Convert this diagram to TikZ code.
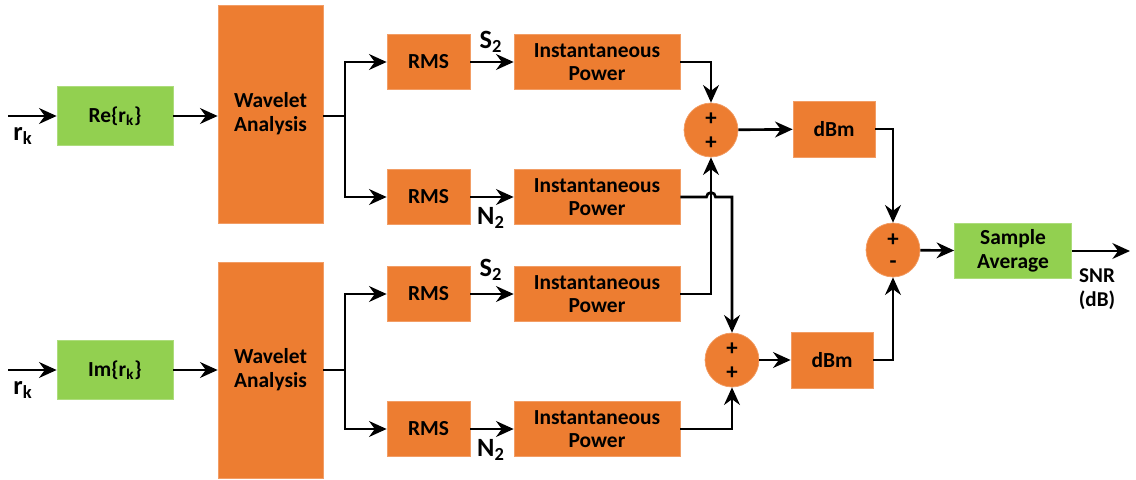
\documentclass[tikz,border=0pt]{standalone}
\usepackage{fontspec}
\setmainfont{Carlito}
\usetikzlibrary{arrows.meta,calc}
\definecolor{blockorange}{HTML}{ED7D31}
\definecolor{blockgreen}{HTML}{92D050}
\begin{document}
\begin{tikzpicture}[x=0.02cm,y=-0.02cm,
  font=\fontsize{12.2}{13.5}\selectfont\bfseries,
  block/.style={fill=blockorange,draw=blockorange!75!white,line width=0.4pt,align=center,inner sep=1pt},
  gblock/.style={fill=blockgreen,draw=blockgreen!75!white,line width=0.4pt,align=center,inner sep=1pt},
  rmsbox/.style={block,minimum width=1.66cm,minimum height=1.1cm},
  powbox/.style={block,minimum width=3.32cm,minimum height=1.1cm},
  wavebox/.style={block,minimum width=2.1cm,minimum height=4.36cm},
  dbmbox/.style={block,minimum width=1.64cm,minimum height=1.12cm},
  summer/.style={circle,fill=blockorange,draw=blockorange!75!white,line width=0.4pt,minimum size=1.08cm,inner sep=0pt},
  sign/.style={font=\fontsize{13}{13}\selectfont\bfseries,inner sep=0pt},
  sig/.style={font=\fontsize{15}{16}\selectfont\bfseries,inner sep=1pt},
  wire/.style={line width=1.5pt,black},
  flow/.style={wire,-{Stealth[length=10pt,width=9pt]}}]
\useasboundingbox (0,0) rectangle (1136,480);

% input stages
\node[gblock,minimum width=2.32cm,minimum height=1.18cm] (re) at (115,116) {Re\{r\textsubscript{k}\}};
\node[gblock,minimum width=2.32cm,minimum height=1.18cm] (im) at (115,370) {Im\{r\textsubscript{k}\}};
\coordinate (in1) at (8,116);
\coordinate (in2) at (8,370);
\node[sig] (rk1) at (23,136) {r\textsubscript{k}};
\node[sig] (rk2) at (23,390) {r\textsubscript{k}};

% wavelet analysis
\node[wavebox] (wa1) at (270.5,114) {Wavelet\\Analysis};
\node[wavebox,minimum height=4.32cm] (wa2) at (270.5,370) {Wavelet\\Analysis};
\coordinate (sp1) at (345,116);
\coordinate (sp2) at (345,370);

% RMS and power branches
\node[rmsbox] (rms1) at (428.5,62) {RMS};
\node[rmsbox] (rms2) at (428.5,197) {RMS};
\node[rmsbox] (rms3) at (428.5,294) {RMS};
\node[rmsbox] (rms4) at (428.5,429) {RMS};
\node[powbox] (ip1) at (597,62) {Instantaneous\\Power};
\node[powbox] (ip2) at (597,197) {Instantaneous\\Power};
\node[powbox] (ip3) at (597,294) {Instantaneous\\Power};
\node[powbox] (ip4) at (597,429) {Instantaneous\\Power};
\node[sig] (s2a) at (491,42) {S\textsubscript{2}};
\node[sig] (n2a) at (491,218) {N\textsubscript{2}};
\node[sig] (s2b) at (491,270) {S\textsubscript{2}};
\node[sig] (n2b) at (491,450) {N\textsubscript{2}};

% summing junctions
\node[summer] (sum1) at (711,130) {};
\node[summer] (sum2) at (732,360) {};
\node[summer] (sum3) at (893,250) {};
\node[sign] (p1a) at (711,119) {+};
\node[sign] (p1b) at (711,143) {+};
\node[sign] (p2a) at (732,349) {+};
\node[sign] (p2b) at (732,373) {+};
\node[sign] (p3a) at (893,240) {+};
\node[sign] (p3b) at (893,265) {-};

% output stages
\node[dbmbox] (dbm1) at (834,129) {dBm};
\node[dbmbox] (dbm2) at (832,360) {dBm};
\node[gblock,minimum width=2.34cm,minimum height=1.1cm] (avg) at (1013,251) {Sample\\Average};
\coordinate (out) at (1130,251);
\node[font=\fontsize{12}{14}\selectfont\bfseries,align=center,inner sep=0pt] (snr) at (1097,289) {SNR\\(dB)};

% connections
\draw[flow] (in1) -- (re);
\draw[flow] (in2) -- (im);
\draw[flow] (re.east) -- (re.east -| wa1.west);
\draw[flow] (im.east) -- (im.east -| wa2.west);
\draw[wire] (wa1.east |- sp1) -- (sp1);
\draw[wire] (wa2.east |- sp2) -- (sp2);
\draw[flow] (sp1) |- (rms1.west);
\draw[flow] (sp1) |- (rms2.west);
\draw[flow] (sp2) |- (rms3.west);
\draw[flow] (sp2) |- (rms4.west);
\draw[flow] (rms1) -- (ip1);
\draw[flow] (rms2) -- (ip2);
\draw[flow] (rms3) -- (ip3);
\draw[flow] (rms4) -- (ip4);

\draw[flow] (ip1.east) -| (sum1.north);
\draw[flow] (ip3.east) -| (sum1.south);
\coordinate (hop) at (sum1 |- ip2.east);
\draw[flow] (ip2.east) -- ($(hop)+(-4.5,0)$) arc[start angle=180,end angle=0,radius=0.09cm]
  -- (sum2.north |- ip2.east) -- (sum2.north);
\draw[flow] (ip4.east) -| (sum2.south);

\draw[flow] (sum1) -- (dbm1);
\draw[flow] (sum2) -- (dbm2);
\draw[flow] (dbm1.east) -| (sum3.north);
\draw[flow] (dbm2.east) -| (sum3.south);
\draw[flow] (sum3) -- (avg);
\draw[flow] (avg) -- (out);
\end{tikzpicture}
\end{document}
